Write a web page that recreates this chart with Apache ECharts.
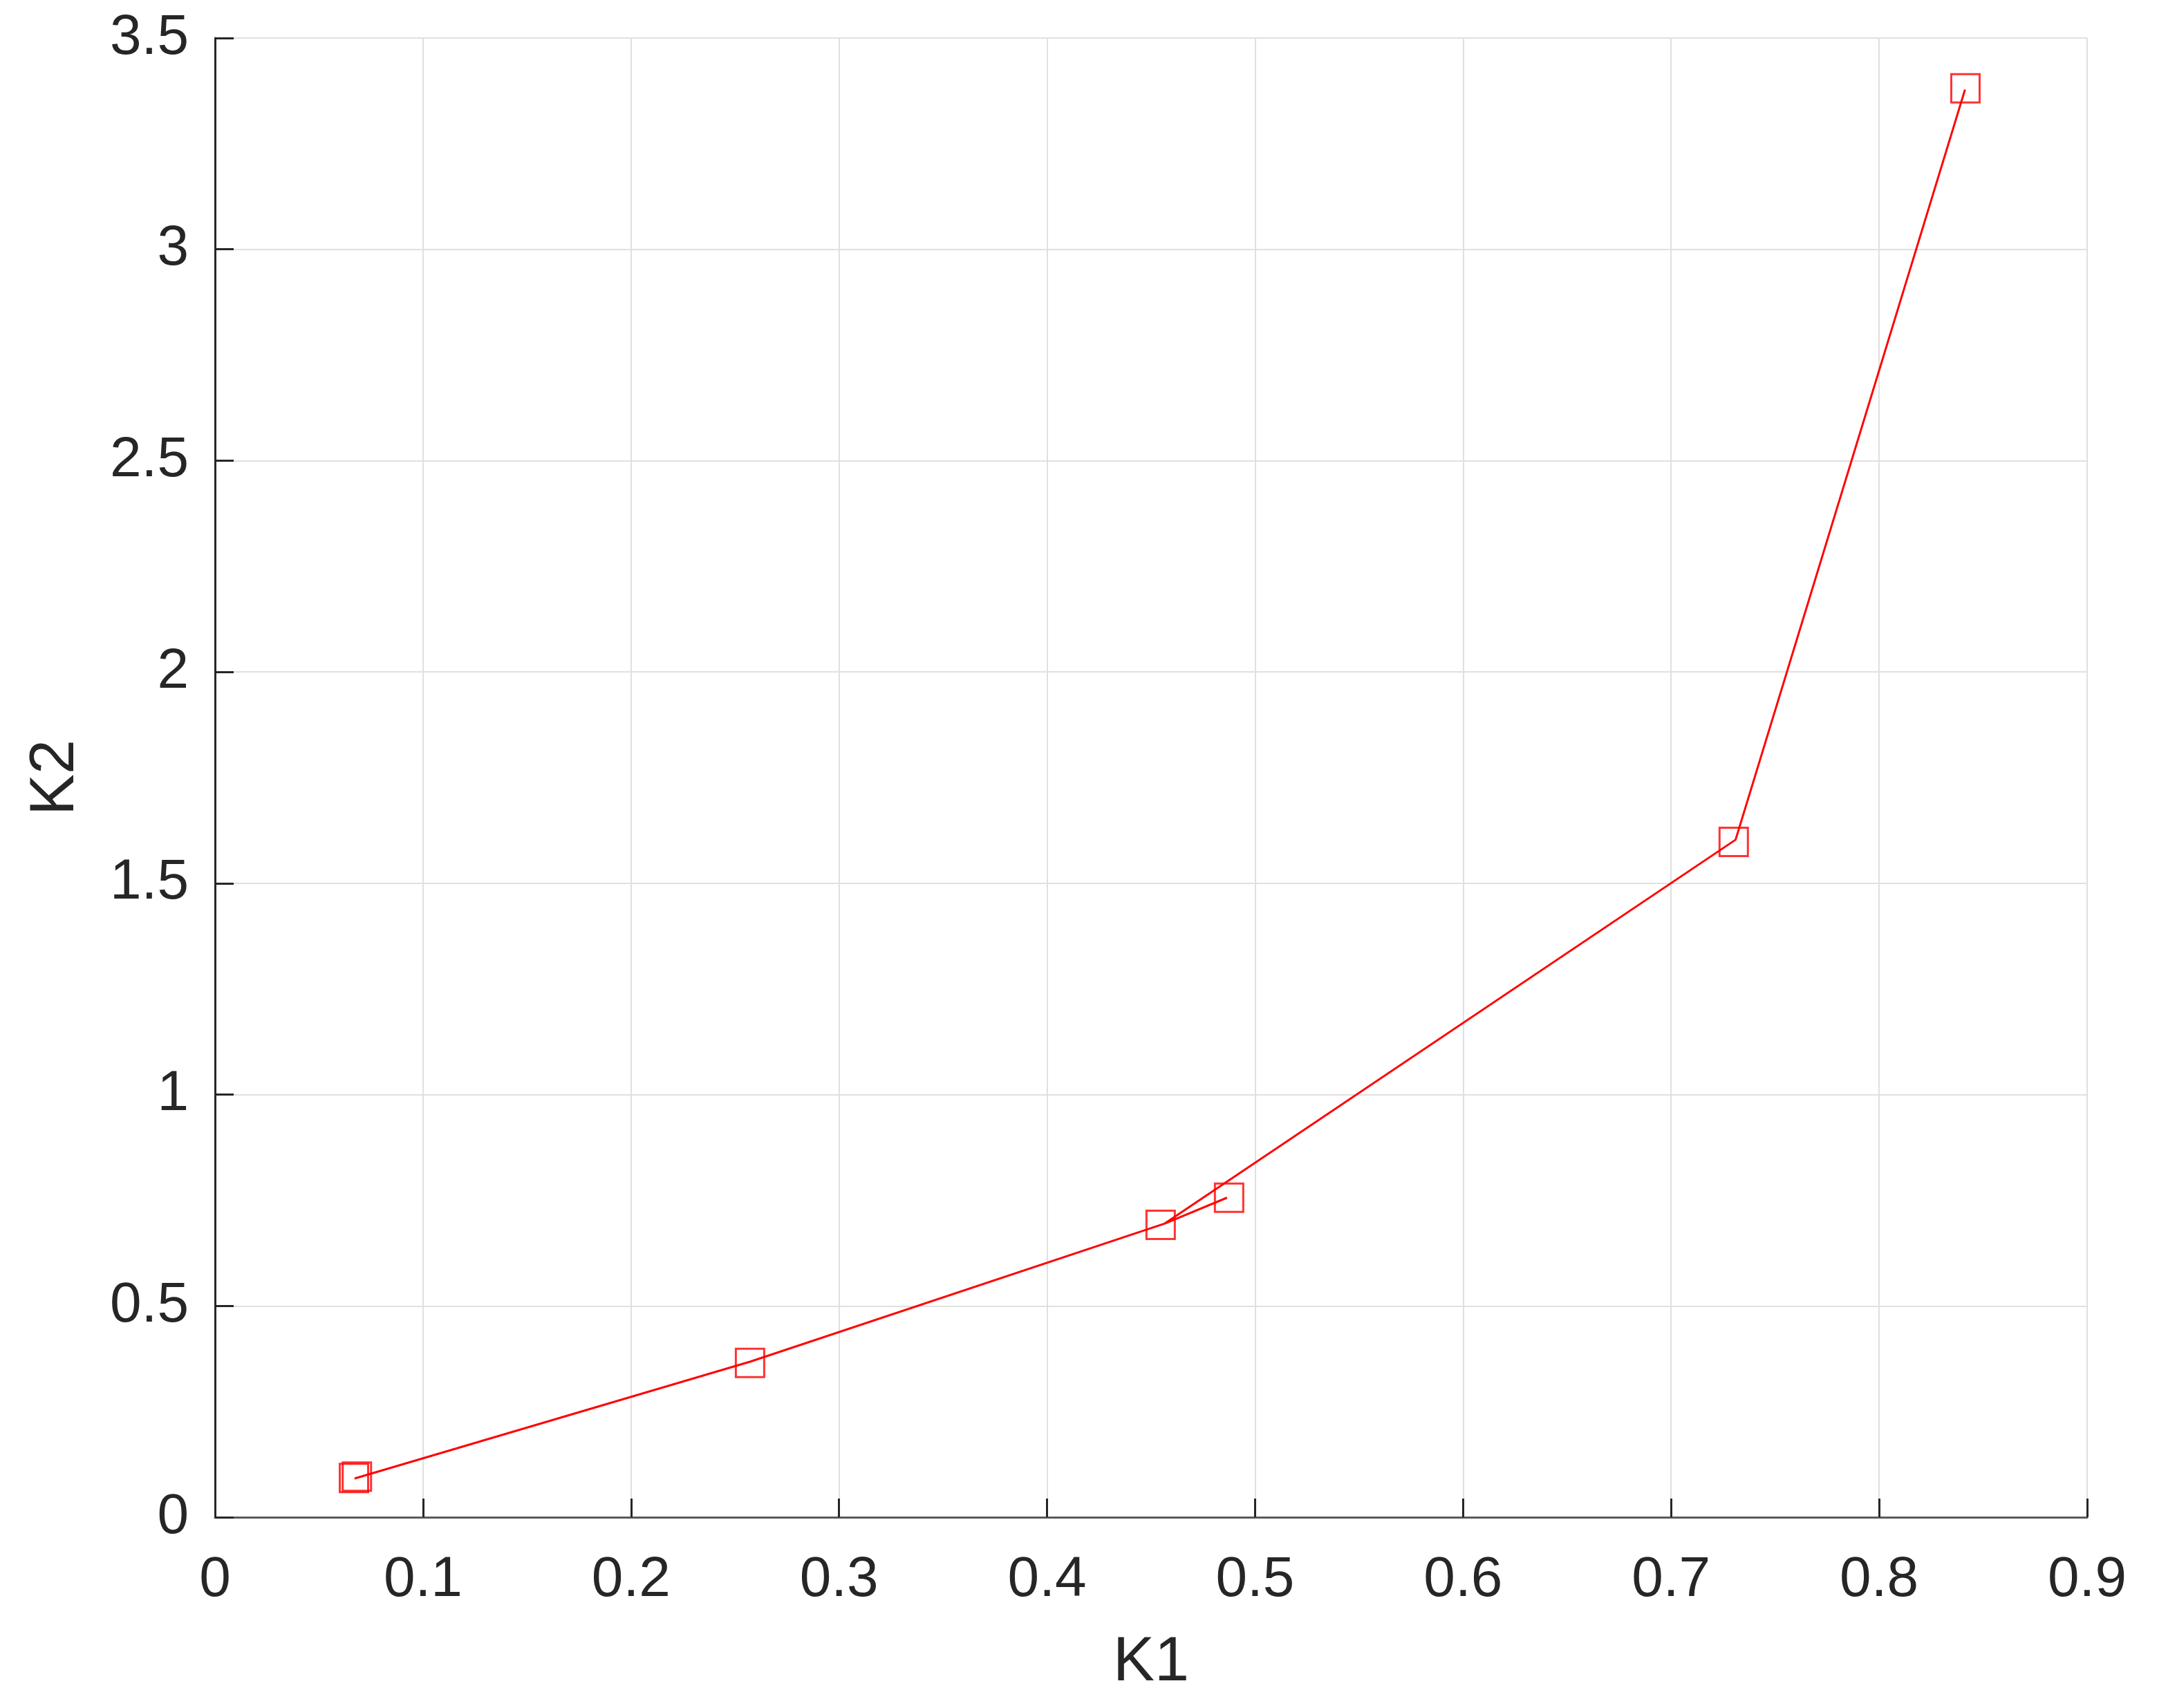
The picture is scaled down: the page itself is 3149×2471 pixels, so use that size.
<!DOCTYPE html>
<html>
<head>
<meta charset="utf-8">
<title>K1 - K2</title>
<script src="https://cdn.jsdelivr.net/npm/echarts@6/dist/echarts.min.js"></script>
<style>
    html, body { margin: 0; padding: 0; background: #fff; }
    #main { width: 3149px; height: 2471px; }
</style>
</head>
<body>
<div id="main"></div>
<script>
// marker points (squares)
var markerK1 = [0.0668, 0.0682, 0.2572, 0.4546, 0.4875, 0.7301, 0.8415];
var markerK2 = [0.093, 0.096, 0.365, 0.692, 0.756, 1.598, 3.381];
// connecting line, in drawing order
var pathK1 = [0.0671, 0.2572, 0.4566, 0.4865, 0.4566, 0.7310, 0.8413];
var pathK2 = [0.0916, 0.368, 0.695, 0.756, 0.695, 1.603, 3.378];

var xTicks = {min: 0, max: 0.9, interval: 0.1};
var yTicks = {min: 0, max: 3.5, interval: 0.5};

var fontFamily = '"Liberation Sans", Arial, sans-serif';
var textColor = '#262626';

function zip (xs, ys) {
    return xs.map(function (x, i) { return [x, ys[i]]; });
}

var myChart = echarts.init(document.getElementById('main'), null, {renderer: 'canvas'});
myChart.setOption({
    animation: false,
    backgroundColor: '#fff',
    grid: {
        left: 311,
        top: 55,
        right: 130,
        bottom: 276,
        containLabel: false
    },
    xAxis: {
        type: 'value',
        min: xTicks.min,
        max: xTicks.max,
        interval: xTicks.interval,
        name: 'K1',
        nameLocation: 'middle',
        nameGap: 166,
        nameTextStyle: {
            fontFamily: fontFamily,
            fontSize: 90,
            color: textColor
        },
        axisLine: {
            onZero: false,
            lineStyle: { color: '#5a5a5a', width: 3 }
        },
        axisTick: {
            inside: true,
            length: 27,
            lineStyle: { color: '#262626', width: 3 }
        },
        axisLabel: {
            margin: 50,
            fontFamily: fontFamily,
            fontSize: 82,
            color: textColor
        },
        splitLine: {
            show: true,
            lineStyle: { color: '#e0e0e0', width: 2 }
        }
    },
    yAxis: {
        type: 'value',
        min: yTicks.min,
        max: yTicks.max,
        interval: yTicks.interval,
        name: 'K2',
        nameLocation: 'middle',
        nameGap: 185,
        nameTextStyle: {
            fontFamily: fontFamily,
            fontSize: 90,
            color: textColor
        },
        axisLine: {
            show: true,
            onZero: false,
            lineStyle: { color: '#262626', width: 3 }
        },
        axisTick: {
            show: true,
            inside: true,
            length: 27,
            lineStyle: { color: '#262626', width: 3 }
        },
        axisLabel: {
            margin: 38,
            fontFamily: fontFamily,
            fontSize: 82,
            color: textColor
        },
        splitLine: {
            show: true,
            lineStyle: { color: '#e0e0e0', width: 2 }
        }
    },
    series: [
        {
            type: 'line',
            data: zip(pathK1, pathK2),
            showSymbol: false,
            symbol: 'none',
            lineStyle: { color: '#ff0000', width: 3 },
            z: 2
        },
        {
            type: 'scatter',
            data: zip(markerK1, markerK2),
            symbol: 'rect',
            symbolSize: 41,
            itemStyle: {
                color: 'rgba(0,0,0,0)',
                borderColor: '#ff0000',
                borderWidth: 3
            },
            z: 3
        }
    ]
});
</script>
</body>
</html>
